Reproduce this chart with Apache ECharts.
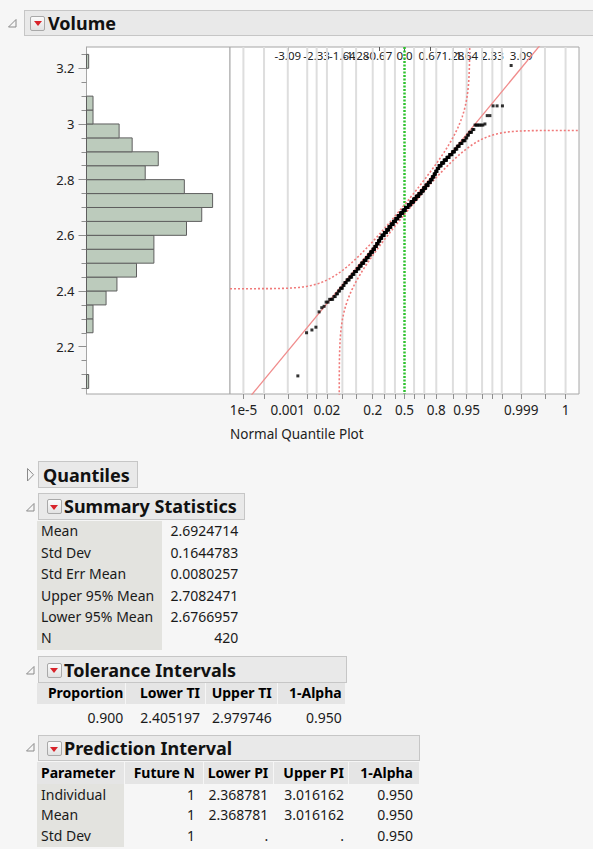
<!DOCTYPE html>
<html>
<head>
<meta charset="utf-8">
<script src="https://cdn.jsdelivr.net/npm/echarts@6/dist/echarts.min.js"></script>
<style>
  html, body { margin:0; padding:0; width:593px; height:849px; overflow:hidden; background:#f6f6f6;
    font-family:'Noto Sans', sans-serif; color:#111; }
  #chart { position:absolute; left:0; top:0; width:593px; height:450px; }
  .hdr { position:absolute; box-sizing:border-box; background:#e9e9e9; border:1px solid #c6c6c6;
    font-weight:bold; font-size:18px; white-space:nowrap; }
  .hdr .t { position:absolute; top:0; bottom:0; display:flex; align-items:center; }
  .ico { position:absolute; box-sizing:border-box; width:15px; height:15px; border:1px solid #a9a9a9;
    border-radius:2px; background:linear-gradient(#fbfbfb,#e2e2e2); }
  .ico:after { content:''; position:absolute; left:2.5px; top:4.5px; border-left:4px solid transparent;
    border-right:4px solid transparent; border-top:5px solid #d8232a; }
  .tri { position:absolute; overflow:visible; }
  .bx { position:absolute; }
  .tx { position:absolute; height:20px; line-height:20px; font-size:14px; white-space:nowrap; color:#1a1a1a; }
  .b { font-weight:bold; color:#000; }
</style>
</head>
<body>
<div id="chart"></div>

<!-- outline headers -->
<svg class="tri" style="left:8px;top:19px" width="9" height="9"><polygon points="8,0.5 8,8 0.5,8" fill="none" stroke="#8a8a8a" stroke-width="1"/></svg>
<div class="hdr" style="left:24px;top:9.5px;width:590px;height:26.5px">
  <div class="ico" style="left:5px;top:5px"></div>
  <div class="t" style="left:23px">Volume</div>
</div>

<svg class="tri" style="left:26.5px;top:468px" width="8" height="14"><polygon points="0.5,0.5 6.5,6.75 0.5,13" fill="none" stroke="#8a8a8a" stroke-width="1"/></svg>
<div class="hdr" style="left:38px;top:461px;width:99.5px;height:27px">
  <div class="t" style="left:4px">Quantiles</div>
</div>

<svg class="tri" style="left:25.5px;top:503px" width="9" height="9"><polygon points="8,0.5 8,8 0.5,8" fill="none" stroke="#8a8a8a" stroke-width="1"/></svg>
<div class="hdr" style="left:38px;top:492.5px;width:206.5px;height:27px">
  <div class="ico" style="left:7.5px;top:5.5px"></div>
  <div class="t" style="left:25px">Summary Statistics</div>
</div>

<svg class="tri" style="left:25.5px;top:665.5px" width="9" height="9"><polygon points="8,0.5 8,8 0.5,8" fill="none" stroke="#8a8a8a" stroke-width="1"/></svg>
<div class="hdr" style="left:38px;top:656px;width:309px;height:27px">
  <div class="ico" style="left:7.5px;top:5.5px"></div>
  <div class="t" style="left:25px">Tolerance Intervals</div>
</div>

<svg class="tri" style="left:25.5px;top:742.5px" width="9" height="9"><polygon points="8,0.5 8,8 0.5,8" fill="none" stroke="#8a8a8a" stroke-width="1"/></svg>
<div class="hdr" style="left:38px;top:735px;width:381.5px;height:26px">
  <div class="ico" style="left:7.5px;top:5px"></div>
  <div class="t" style="left:25px">Prediction Interval</div>
</div>

<div id="tables"></div>

<script>
// ---- Volume sample: distinct measured values and how many times each occurs ----
const volumeValues = [
  2.095,
  2.25, 2.26, 2.27,
  2.325, 2.34, 2.345,
  2.36, 2.37, 2.38, 2.39,
  2.40, 2.41, 2.42, 2.43, 2.44,
  2.45, 2.46, 2.47, 2.48, 2.49,
  2.50, 2.51, 2.52, 2.53, 2.54,
  2.55, 2.56, 2.57, 2.58, 2.59,
  2.60, 2.61, 2.62, 2.63, 2.64,
  2.65, 2.66, 2.67, 2.68, 2.69,
  2.70, 2.71, 2.72, 2.73, 2.74,
  2.75, 2.76, 2.77, 2.78, 2.79,
  2.80, 2.81, 2.82, 2.83, 2.84,
  2.85, 2.86, 2.87, 2.88, 2.89,
  2.90, 2.91, 2.92, 2.93, 2.94,
  2.95, 2.96, 2.97, 2.98, 2.996,
  3.00, 3.03,
  3.065,
  3.21
];
const volumeCounts = [
  1,
  1, 1, 1,
  1, 1, 1,
  2, 3, 2, 2,
  2, 3, 2, 3, 4,
  4, 4, 5, 5, 5,
  6, 6, 6, 6, 7,
  6, 6, 6, 6, 7,
  9, 9, 9, 9, 10,
  10, 10, 11, 11, 11,
  12, 12, 12, 11, 11,
  10, 9, 9, 9, 8,
  6, 6, 5, 5, 5,
  7, 7, 7, 6, 6,
  5, 4, 4, 4, 4,
  2, 2, 3, 2, 6,
  1, 2,
  3,
  1
];

// fitted normal and Lilliefors band half-width
const meanVolume = 2.6924714;
const sdVolume = 0.1644783;
const lillieforsD = 0.042;
const binWidth = 0.05;

// axes
const yMin = 2.03, yMax = 3.2765;
const yMajorTicks = [2.2, 2.4, 2.6, 2.8, 3, 3.2];
const yMinorTicks = [2.05,2.1,2.15,2.25,2.3,2.35,2.45,2.5,2.55,2.65,2.7,2.75,2.85,2.9,2.95,3.05,3.1,3.15,3.25];
const zMin = -4.62, zMax = 4.62;
const gridProbs = [1e-5,1e-4,0.001,0.005,0.01,0.02,0.05,0.1,0.2,0.3,0.4,0.5,0.6,0.7,0.8,0.9,0.95,0.98,0.99,0.995,0.999,0.9999,0.99999];
const probLabelProbs = [1e-5, 0.001, 0.02, 0.2, 0.5, 0.8, 0.95, 0.999, 0.99999];
const probLabelText  = ['1e-5','0.001','0.02','0.2','0.5','0.8','0.95','0.999','1'];
const zTickProbs = [0.001, 0.01, 0.05, 0.1, 0.25, 0.5, 0.75, 0.9, 0.95, 0.99, 0.999];
const zTickText  = ['-3.09','-2.33','-1.64','-1.28','-0.67','0.0','0.67','1.28','1.64','2.33','3.09'];

// report tables
const summaryLabels = ['Mean','Std Dev','Std Err Mean','Upper 95% Mean','Lower 95% Mean','N'];
const summaryValues = ['2.6924714','0.1644783','0.0080257','2.7082471','2.6766957','420'];
const tolHeaders = ['Proportion','Lower TI','Upper TI','1-Alpha'];
const tolValues  = ['0.900','2.405197','2.979746','0.950'];
const predHeaders = ['Parameter','Future N','Lower PI','Upper PI','1-Alpha'];
const predRows = [
  ['Individual','1','2.368781','3.016162','0.950'],
  ['Mean','1','2.368781','3.016162','0.950'],
  ['Std Dev','1','.','.','0.950']
];

// ---- normal distribution helpers ----
function erfc(x) {
  const z = Math.abs(x), t = 1 / (1 + 0.5 * z);
  const r = t * Math.exp(-z*z - 1.26551223 + t*(1.00002368 + t*(0.37409196 + t*(0.09678418 +
    t*(-0.18628806 + t*(0.27886807 + t*(-1.13520398 + t*(1.48851587 + t*(-0.82215223 + t*0.17087277)))))))));
  return x >= 0 ? r : 2 - r;
}
function phi(x) { return 0.5 * erfc(-x / Math.SQRT2); }
function phiInv(p) {
  const a = [-3.969683028665376e+01, 2.209460984245205e+02, -2.759285104469687e+02, 1.383577518672690e+02, -3.066479806614716e+01, 2.506628277459239e+00];
  const b = [-5.447609879822406e+01, 1.615858368580409e+02, -1.556989798598866e+02, 6.680131188771972e+01, -1.328068155288572e+01];
  const c = [-7.784894002430293e-03, -3.223964580411365e-01, -2.400758277161838e+00, -2.549671010466300e+00, 4.374664141464968e+00, 2.938163982698783e+00];
  const d = [7.784695709041462e-03, 3.224671290700398e-01, 2.445134137142996e+00, 3.754408661907416e+00];
  const pl = 0.02425;
  let q, r;
  if (p < pl) {
    q = Math.sqrt(-2 * Math.log(p));
    return (((((c[0]*q+c[1])*q+c[2])*q+c[3])*q+c[4])*q+c[5]) / ((((d[0]*q+d[1])*q+d[2])*q+d[3])*q+1);
  }
  if (p > 1 - pl) {
    q = Math.sqrt(-2 * Math.log(1 - p));
    return -(((((c[0]*q+c[1])*q+c[2])*q+c[3])*q+c[4])*q+c[5]) / ((((d[0]*q+d[1])*q+d[2])*q+d[3])*q+1);
  }
  q = p - 0.5; r = q * q;
  return (((((a[0]*r+a[1])*r+a[2])*r+a[3])*r+a[4])*r+a[5])*q / (((((b[0]*r+b[1])*r+b[2])*r+b[3])*r+b[4])*r+1);
}

// ---- derived series ----
const sorted = [];
volumeValues.forEach((v, i) => { for (let k = 0; k < volumeCounts[i]; k++) sorted.push(v); });
const n = sorted.length;
const quantilePoints = sorted.map((v, i) => [phiInv((i + 1) / (n + 1)), v]);

const binMap = new Map();
sorted.forEach(v => {
  const idx = Math.floor(Math.round(v * 1000) / Math.round(binWidth * 1000));
  binMap.set(idx, (binMap.get(idx) || 0) + 1);
});
const histBins = [...binMap.entries()].map(([idx, c]) => [idx * binWidth, (idx + 1) * binWidth, c]);

const fitLine = [[zMin, meanVolume + sdVolume * zMin], [zMax, meanVolume + sdVolume * zMax]];

function bandCurve(sign) {
  const pts = [];
  for (let z = zMin; z <= zMax + 1e-9; z += 0.01) {
    const p = phi(z) + sign * lillieforsD;
    if (p > 0 && p < 1) pts.push([z, meanVolume + sdVolume * phiInv(p)]);
  }
  for (let u = -6; u <= 6; u += 0.01) {
    const q = phi(u) - sign * lillieforsD;
    if (q > 0 && q < 1) {
      const z = phiInv(q);
      if (z >= zMin && z <= zMax) pts.push([z, meanVolume + sdVolume * u]);
    }
  }
  pts.sort((a, b) => a[0] - b[0]);
  return pts;
}
const upperBand = bandCurve(1);
const lowerBand = bandCurve(-1);

const gridZ = gridProbs.map(phiInv);
const probLabelZ = probLabelProbs.map(phiInv);
const zTickZ = zTickProbs.map(p => (p === 0.5 ? 0 : phiInv(p)));

function lookup(zs, texts, v) {
  for (let i = 0; i < zs.length; i++) if (Math.abs(zs[i] - v) < 1e-6) return texts[i];
  return '';
}

const FONT = 'Noto Sans';
const chart = echarts.init(document.getElementById('chart'), null, { renderer: 'svg' });
chart.setOption({
  animation: false,
  backgroundColor: 'transparent',
  textStyle: { fontFamily: FONT },
  grid: [
    { left: 86.5, top: 47, width: 143.5, height: 347, show: true, backgroundColor: '#fff', borderColor: '#a6a6a6', borderWidth: 1 },
    { left: 230, top: 47, width: 349, height: 347, show: true, backgroundColor: '#fff', borderColor: '#a6a6a6', borderWidth: 1 }
  ],
  xAxis: [
    { gridIndex: 0, type: 'value', min: 0, max: 66, show: false },
    { gridIndex: 1, type: 'value', min: zMin, max: zMax, position: 'bottom',
      axisLine: { show: false },
      axisTick: { show: true, length: 5, customValues: gridZ, lineStyle: { color: '#8f8f8f' } },
      axisLabel: { show: true, customValues: probLabelZ, margin: 9, fontSize: 13.5, color: '#222', fontFamily: FONT,
        formatter: v => lookup(probLabelZ, probLabelText, v) },
      splitLine: { show: false } },
    { gridIndex: 1, type: 'value', min: zMin, max: zMax, position: 'top',
      axisLine: { show: false },
      axisTick: { show: true, inside: true, length: 4, customValues: zTickZ, lineStyle: { color: '#555' } },
      axisLabel: { show: true, inside: true, customValues: zTickZ, margin: 2, fontSize: 11.5, color: '#222', fontFamily: FONT,
        formatter: v => lookup(zTickZ, zTickText, v) },
      splitLine: { show: false } }
  ],
  yAxis: [
    { gridIndex: 0, type: 'value', min: yMin, max: yMax, position: 'left',
      axisLine: { show: true, lineStyle: { color: '#a6a6a6' } },
      axisTick: { show: true, length: 8, customValues: yMajorTicks, lineStyle: { color: '#8f8f8f' } },
      axisLabel: { show: true, customValues: yMajorTicks, margin: 12, fontSize: 13, color: '#222', fontFamily: FONT },
      splitLine: { show: false } },
    { gridIndex: 0, type: 'value', min: yMin, max: yMax, position: 'left', offset: 0,
      axisLine: { show: false },
      axisTick: { show: true, length: 5, customValues: yMinorTicks, lineStyle: { color: '#8f8f8f' } },
      axisLabel: { show: false },
      splitLine: { show: false } },
    { gridIndex: 1, type: 'value', min: yMin, max: yMax, show: false }
  ],
  graphic: [
    { type: 'text', left: 230, top: 427, style: { text: 'Normal Quantile Plot', fontSize: 13.5, fill: '#222', fontFamily: FONT } }
  ],
  series: [
    { type: 'custom', xAxisIndex: 0, yAxisIndex: 0, data: histBins, encode: { x: 2, y: [0, 1] },
      renderItem: (params, api) => {
        const a = api.coord([0, api.value(0)]);
        const b = api.coord([api.value(2), api.value(1)]);
        return { type: 'rect', shape: { x: a[0], y: b[1], width: b[0] - a[0], height: a[1] - b[1] },
          style: { fill: '#bccbbc', stroke: '#5e5e5e', lineWidth: 1 } };
      } },
    { type: 'custom', xAxisIndex: 1, yAxisIndex: 2, data: gridZ.map(z => [z, yMin]), encode: { x: 0, y: 1 }, z: 1,
      renderItem: (params, api) => {
        const z = api.value(0);
        const t = api.coord([z, yMax]), b = api.coord([z, yMin]);
        const center = Math.abs(z) < 1e-9;
        return { type: 'line', shape: { x1: t[0], y1: t[1], x2: b[0], y2: b[1] },
          style: center ? { stroke: '#2fc22f', lineWidth: 2.5, lineDash: [2, 1.5] } : { stroke: '#dedede', lineWidth: 2 } };
      } },
    { type: 'line', xAxisIndex: 1, yAxisIndex: 2, data: upperBand, showSymbol: false, clip: true, z: 2,
      lineStyle: { color: '#f07a7a', width: 1.6, type: [2, 2] } },
    { type: 'line', xAxisIndex: 1, yAxisIndex: 2, data: lowerBand, showSymbol: false, clip: true, z: 2,
      lineStyle: { color: '#f07a7a', width: 1.6, type: [2, 2] } },
    { type: 'line', xAxisIndex: 1, yAxisIndex: 2, data: fitLine, showSymbol: false, clip: true, z: 3,
      lineStyle: { color: '#f08c8c', width: 1.3 } },
    { type: 'scatter', xAxisIndex: 1, yAxisIndex: 2, data: quantilePoints, symbol: 'rect', symbolSize: 3, z: 4,
      itemStyle: { color: '#000' } }
  ]
});

// ---- report tables ----
const host = document.getElementById('tables');
const GREY = '#e3e3df', HEAD = '#e5e5e5';
function box(x, y, w, h, color) {
  const d = document.createElement('div');
  d.className = 'bx';
  Object.assign(d.style, { left: x + 'px', top: y + 'px', width: w + 'px', height: h + 'px', background: color });
  host.appendChild(d);
}
function text(x, cy, s, align, bold) {
  const d = document.createElement('div');
  d.className = 'tx' + (bold ? ' b' : '');
  d.textContent = s;
  d.style.top = (cy - 10) + 'px';
  if (align === 'left') d.style.left = x + 'px'; else d.style.right = (593 - x) + 'px';
  host.appendChild(d);
}

// Summary Statistics
box(36.7, 520.5, 125, 129, GREY);
summaryLabels.forEach((s, i) => {
  const cy = 531.4 + 21.4 * i;
  text(41, cy, s, 'left');
  text(238.3, cy, summaryValues[i], 'right');
});

// Tolerance Intervals
const tolCols = [36.7, 125, 205, 276.7, 345];
const tolRight = [123.3, 200, 271.7, 341.7];
for (let i = 0; i < 4; i++) box(tolCols[i] + (i ? 1 : 0), 683, tolCols[i + 1] - tolCols[i] - (i ? 1 : 0), 20.5, HEAD);
tolHeaders.forEach((s, i) => text(tolRight[i], 693.2, s, 'right', true));
tolValues.forEach((s, i) => text(tolRight[i], 718, s, 'right'));

// Prediction Interval
const predCols = [36.7, 124, 203, 273, 348, 419.3];
const predRight = [41, 195, 268.3, 344, 413];
for (let i = 0; i < 5; i++) box(predCols[i] + (i ? 1 : 0), 761.5, predCols[i + 1] - predCols[i] - (i ? 1 : 0), 22, HEAD);
box(36.7, 783.5, 87.3, 63.5, GREY);
predHeaders.forEach((s, i) => text(predRight[i], 772.5, s, i ? 'right' : 'left', true));
predRows.forEach((row, r) => {
  const cy = 794.6 + 20.8 * r;
  row.forEach((s, i) => text(predRight[i], cy, s, i ? 'right' : 'left'));
});
</script>
</body>
</html>
